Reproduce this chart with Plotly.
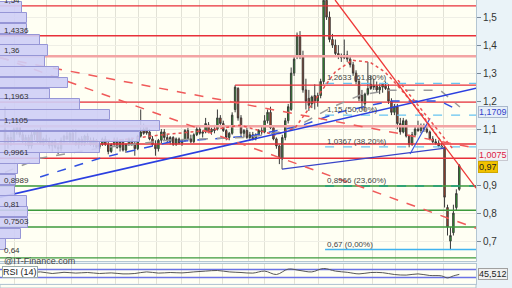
import plotly.graph_objects as go

# ---------------- data ----------------
opens = [1.10,1.05,1.07,1.06,1.09,1.11,1.08,1.06,1.07,1.04,1.08,1.09,1.096,1.05,1.065,1.055,1.04,1.055,1.035,1.03,
         1.06,1.075,1.06,1.085,1.055,1.045,1.065,1.05,1.075,1.06,1.045,1.06,1.035,1.045,1.065,1.045,1.02,1.045,1.06,1.035,
         1.055,1.025,1.045,1.065,1.045,1.03,1.075,1.10,1.107,1.09,1.065,1.045,1.03,1.06,1.09,1.07,1.055,1.07,1.045,1.065,
         1.05,1.06,1.095,1.065,1.055,1.08,1.10,1.085,1.09,1.115,1.09,1.10,1.10,1.14,1.12,1.095,1.07,1.085,1.17,1.245,
         1.14,1.085,1.095,1.07,1.08,1.065,1.08,1.095,1.09,1.13,1.16,1.105,1.065,1.04,0.995,1.07,1.13,1.17,1.30,1.36,
         1.43,1.36,1.24,1.21,1.19,1.22,1.20,1.22,1.27,1.56,1.50,1.42,1.40,1.37,1.36,1.355,1.365,1.35,1.33,1.30,
         1.27,1.22,1.19,1.225,1.26,1.25,1.255,1.24,1.25,1.255,1.245,1.20,1.16,1.18,1.12,1.09,1.13,1.075,1.045,1.08,
         1.10,1.095,1.11,1.10,1.09,1.065,1.055,1.05,1.04,1.035,0.82,0.70,0.73,0.82,0.885]
highs = [1.18,1.08,1.09,1.11,1.12,1.12,1.09,1.08,1.08,1.09,1.10,1.10,1.107,1.07,1.08,1.07,1.06,1.065,1.05,1.07,
         1.08,1.09,1.09,1.10,1.10,1.07,1.075,1.08,1.085,1.07,1.07,1.065,1.05,1.07,1.075,1.055,1.05,1.07,1.07,1.06,
         1.065,1.05,1.07,1.07,1.055,1.08,1.17,1.12,1.11,1.10,1.075,1.06,1.065,1.10,1.10,1.08,1.075,1.075,1.07,1.07,
         1.065,1.10,1.105,1.08,1.085,1.11,1.11,1.095,1.14,1.125,1.105,1.115,1.17,1.15,1.13,1.10,1.09,1.16,1.257,1.25,
         1.15,1.10,1.105,1.09,1.09,1.085,1.10,1.11,1.15,1.17,1.18,1.11,1.07,1.045,1.08,1.14,1.19,1.32,1.36,1.445,
         1.45,1.38,1.28,1.24,1.22,1.26,1.23,1.28,1.575,1.57,1.52,1.44,1.42,1.40,1.37,1.42,1.38,1.36,1.34,1.31,
         1.28,1.24,1.23,1.34,1.29,1.28,1.27,1.26,1.265,1.27,1.26,1.21,1.19,1.19,1.14,1.14,1.135,1.08,1.09,1.11,
         1.13,1.12,1.12,1.115,1.095,1.075,1.065,1.06,1.05,1.04,0.83,0.75,0.83,0.885,0.975]
lows = [1.01,1.03,1.04,1.05,1.08,1.07,1.05,1.04,1.03,1.03,1.06,1.05,1.045,1.04,1.05,1.03,1.02,1.03,1.01,1.02,
        1.05,1.06,1.05,1.05,1.04,1.03,1.04,1.04,1.05,1.04,1.035,1.03,1.02,1.04,1.04,1.01,1.015,1.04,1.03,1.02,
        1.02,1.015,1.04,1.04,1.005,1.025,1.07,1.08,1.08,1.06,1.04,1.005,1.02,1.05,1.06,1.05,1.045,1.04,1.04,1.045,
        1.04,1.055,1.06,1.05,1.05,1.075,1.08,1.07,1.085,1.085,1.08,1.085,1.095,1.115,1.09,1.06,1.06,1.08,1.16,1.13,
        1.075,1.07,1.065,1.06,1.06,1.06,1.075,1.08,1.085,1.12,1.10,1.06,1.03,0.975,0.99,1.06,1.12,1.165,1.29,1.35,
        1.35,1.23,1.17,1.165,1.175,1.17,1.18,1.21,1.26,1.49,1.41,1.39,1.36,1.35,1.34,1.35,1.34,1.32,1.29,1.26,
        1.20,1.17,1.165,1.22,1.24,1.24,1.23,1.225,1.23,1.24,1.19,1.15,1.15,1.10,1.08,1.085,1.07,1.035,1.04,1.075,
        1.09,1.085,1.09,1.085,1.06,1.05,1.045,1.035,1.03,0.82,0.72,0.668,0.72,0.81,0.88]
closes = [1.045,1.07,1.055,1.10,1.115,1.08,1.06,1.07,1.04,1.08,1.095,1.055,1.05,1.065,1.055,1.04,1.055,1.035,1.03,1.06,
          1.075,1.065,1.085,1.055,1.045,1.065,1.05,1.075,1.06,1.045,1.06,1.035,1.045,1.065,1.045,1.02,1.045,1.06,1.035,1.055,
          1.025,1.045,1.065,1.045,1.03,1.075,1.09,1.085,1.086,1.065,1.045,1.03,1.06,1.09,1.07,1.06,1.07,1.045,1.065,1.05,
          1.06,1.095,1.065,1.055,1.08,1.10,1.085,1.09,1.12,1.09,1.10,1.095,1.14,1.12,1.095,1.07,1.085,1.15,1.25,1.14,
          1.085,1.095,1.07,1.08,1.065,1.08,1.095,1.09,1.13,1.16,1.105,1.065,1.04,0.995,1.07,1.13,1.18,1.30,1.35,1.435,
          1.36,1.24,1.20,1.185,1.215,1.20,1.22,1.27,1.56,1.50,1.42,1.40,1.37,1.36,1.355,1.365,1.35,1.33,1.30,1.27,
          1.21,1.20,1.225,1.245,1.245,1.255,1.24,1.25,1.26,1.245,1.20,1.16,1.18,1.12,1.09,1.13,1.075,1.045,1.08,1.10,
          1.095,1.11,1.10,1.09,1.065,1.055,1.05,1.04,1.035,0.857,0.75,0.72,0.80,0.87,0.97]
candle_idx = list(range(len(closes)))

# volume-at-price profile (top bin first)
profile_top = 1.5536
profile_step = 0.0385
profile_vol = [22, 27, 27, 40, 48, 45, 59, 68, 50, 80, 110, 160, 140, 100, 40, 18, 16, 15, 27, 28, 28, 21, 6]

# horizontal levels
red_levels = [1.54, 1.4336, 1.1963, 1.047, 0.9961]
pink_levels = [1.36, 1.1105]
green_levels = [0.8966, 0.81, 0.7503, 0.64]
left_labels = ["1,54", "1,4336", "1,36", "1,1963", "1,1105", "0,9961", "0,8989", "0,81", "0,7503", "0,64"]
left_label_levels = [1.54, 1.4336, 1.36, 1.1963, 1.1105, 0.9961, 0.8966, 0.81, 0.7503, 0.64]
fib_levels = [1.2633, 1.15, 1.0367, 0.8966, 0.67]
fib_labels = ["1,2633 (61,80%)", "1,15 (50,00%)", "1,0367 (38,20%)", "0,8966 (23,60%)", "0,67 (0,00%)"]
fib_start = 108.5
box_top_level = 1.257
box_top_start = 78

# moving averages (index, price)
ma_long_x = [11.9, 32.2, 55.9, 83.1, 100, 113.6, 130.5, 147.5, 153.6]
ma_long_y = [0.929, 0.996, 1.054, 1.075, 1.111, 1.161, 1.200, 1.200, 1.168]
ma_mid_x = [0, 11.9, 32.2, 55.9, 83.1, 96.6, 110.2, 120.3, 130.5, 147.5, 154.2]
ma_mid_y = [0.946, 0.996, 1.032, 1.061, 1.071, 1.096, 1.175, 1.221, 1.239, 1.239, 1.179]
ma_short_x = [0, 18.6, 39, 52.5, 69.5, 79.7, 91.5, 98.3, 105.1, 111.9, 117.6, 123.7, 128.8, 133.9, 140.7, 147.5]
ma_short_y = [1.061, 1.054, 1.061, 1.079, 1.096, 1.114, 1.079, 1.104, 1.204, 1.304, 1.346, 1.339, 1.304, 1.246, 1.161, 1.061]

# drawn trend lines: (x0, y0, x1, y1, colour, dash, width)
trend_lines = [
    (-1.7, 0.857, 159.7, 1.246, "#2B3FE0", "solid", 1.6),
    (93.9, 0.957, 149.2, 1.032, "#3A45C8", "solid", 1.2),
    (137.3, 1.011, 144.1, 1.139, "#3A55E0", "solid", 1.2),
    (93.9, 1.061, 93.9, 0.957, "#555555", "solid", 1.0),
    (111.9, 1.561, 159.7, 0.889, "#EE3838", "solid", 1.3),
    (133.2, 1.275, 151.6, 1.032, "#EE5050", "dot", 1.5),
    (-1.7, 1.354, 159.7, 1.032, "#F05A5A", "dash", 1.5),
    (-1.7, 1.357, 159.7, 0.746, "#F05A5A", "dash", 1.5),
]

# RSI (14)
rsi_x = [0, 4, 8, 12, 16, 20, 24, 28, 32, 36, 40, 44, 48, 52, 56, 60, 64, 68, 72, 76, 80, 84, 88, 92, 96,
         100, 104, 108, 112, 116, 120, 124, 128, 132, 136, 140, 144, 148, 150, 152, 154]
rsi_y = [55, 62, 52, 58, 50, 56, 52, 55, 50, 53, 48, 50, 58, 52, 55, 53, 58, 62, 65, 58, 55, 52, 62, 45, 72,
         65, 58, 75, 62, 56, 48, 55, 54, 45, 42, 48, 40, 38, 28, 38, 45.512]

grid_idx = [3.05, 14.2, 22.7, 31.2, 37.6, 45.4, 51.5, 59.7, 65.8, 73.6, 82.4, 88.1, 98.3, 106.1, 114.6,
            124.7, 132.2, 139.7, 148.8]
price_ticks = [0.7, 0.8, 0.9, 1.1, 1.2, 1.3, 1.4, 1.5]

# ---------------- figure ----------------
XMIN, XMAX = -1.7, 159.66
YTOP = 1.5611
YBOT = YTOP - 261 / 280
FONT = "Liberation Sans"

fig = go.Figure()

centers = [profile_top - profile_step * (k + 0.5) for k in range(len(profile_vol))]
fig.add_trace(go.Bar(x=profile_vol, y=centers, orientation="h", xaxis="x2", yaxis="y",
                     width=profile_step * 0.96, marker=dict(color="rgba(206,206,246,0.9)",
                     line=dict(color="#9696D6", width=1)), hoverinfo="skip"))

def hline(level, x0, x1, color, width, dash="solid"):
    fig.add_trace(go.Scatter(x=[x0, x1], y=[level, level], mode="lines",
                             line=dict(color=color, width=width, dash=dash), hoverinfo="skip"))

for lv in pink_levels:
    hline(lv, XMIN, XMAX, "#F3A4A4", 2.5)
for lv in red_levels:
    hline(lv, XMIN, XMAX, "#E8303A", 1.4)
for lv in green_levels:
    hline(lv, XMIN, XMAX, "#3C9A3C", 1.4)
hline(box_top_level, box_top_start, XMAX, "#E8303A", 1.4)
for lv in fib_levels:
    if lv == 0.67:
        hline(lv, fib_start, XMAX, "#40B4F0", 1.4)
    elif lv == 0.8966:
        hline(lv, fib_start, XMAX, "#1FA07A", 1.6, "dash")
    else:
        hline(lv, fib_start, XMAX, "#66C4F2", 1.4, "dash")

fig.add_trace(go.Scatter(x=ma_long_x, y=ma_long_y, mode="lines", line=dict(color="#3050E0", width=1.5, dash="dash"), hoverinfo="skip"))
fig.add_trace(go.Scatter(x=ma_mid_x, y=ma_mid_y, mode="lines", line=dict(color="#9A9A9A", width=1.5, dash="dash"), hoverinfo="skip"))
fig.add_trace(go.Scatter(x=ma_short_x, y=ma_short_y, mode="lines", line=dict(color="#E85050", width=1.5, dash="dot"), hoverinfo="skip"))

fig.add_trace(go.Candlestick(x=candle_idx, open=opens, high=highs, low=lows, close=closes,
                             increasing=dict(line=dict(color="#3A3A3A", width=1), fillcolor="#26B526"),
                             decreasing=dict(line=dict(color="#3A3A3A", width=1), fillcolor="#C8421E"),
                             whiskerwidth=0, hoverinfo="skip"))

for x0, y0, x1, y1, col, dash, w in trend_lines:
    fig.add_trace(go.Scatter(x=[x0, x1], y=[y0, y1], mode="lines",
                             line=dict(color=col, width=w, dash=dash), hoverinfo="skip"))

# RSI panel
fig.add_trace(go.Scatter(x=[XMIN, XMAX], y=[70, 70], mode="lines", line=dict(color="#6A72E6", width=1.5), xaxis="x3", yaxis="y3", hoverinfo="skip"))
fig.add_trace(go.Scatter(x=[XMIN, XMAX], y=[30, 30], mode="lines", line=dict(color="#6A72E6", width=1.5), xaxis="x3", yaxis="y3", hoverinfo="skip"))
fig.add_trace(go.Scatter(x=rsi_x, y=rsi_y, mode="lines", line=dict(color="#555555", width=1, shape="spline"), xaxis="x3", yaxis="y3", hoverinfo="skip"))

ann = []
for txt, lv in zip(left_labels, left_label_levels):
    ann.append(dict(x=0.004, xref="paper", y=lv, yref="y", text=txt, showarrow=False,
                    xanchor="left", yanchor="bottom", yshift=(1 if txt == "0,64" else -1),
                    font=dict(size=8, color="#333", family=FONT)))
for txt, lv in zip(fib_labels, fib_levels):
    ann.append(dict(x=fib_start, xref="x", y=lv, yref="y", text=txt, showarrow=False,
                    xanchor="left", yanchor="bottom", yshift=-1, font=dict(size=8, color="#444", family=FONT)))

def right_label(val, yref, txt, fg, bg, border, shift=0):
    ann.append(dict(x=1.004, xref="paper", y=val, yref=yref, text=txt, showarrow=False, xanchor="left",
                    yanchor="middle", yshift=shift, bgcolor=bg, bordercolor=border, borderwidth=1, borderpad=0,
                    font=dict(size=9, color=fg, family=FONT)))

right_label(1.1709, "y", "1,1709", "#3344CC", "#E6EEF8", "#A8B8CC", -3)
right_label(1.0075, "y", "1,0075", "#DD2244", "#F2F4F6", "#C8C8D0")
right_label(0.97, "y", "0,97", "#222222", "#F2C200", "#D0A800", -1)
right_label(45.512, "y3", "45,512", "#222222", "#F0F0F0", "#A0A0A0")

ann.append(dict(x=0.004, xref="paper", y=1 - 260.5 / 288, yref="paper", text="@IT-Finance.com", showarrow=False,
                xanchor="left", yanchor="middle", font=dict(size=9, color="#444", family=FONT)))
ann.append(dict(x=0.004, xref="paper", y=1 - 271.5 / 288, yref="paper", text="RSI (14)", showarrow=False,
                xanchor="left", yanchor="middle", bgcolor="#FFFFFF", bordercolor="#9AA", borderwidth=1, borderpad=0,
                font=dict(size=9, color="#222", family=FONT)))

shapes = [dict(type="rect", xref="paper", yref="paper", x0=0, x1=1, y0=0, y1=3.5 / 288,
               fillcolor="#FFFFF3", line=dict(color="#B0C4D0", width=1), layer="below")]

axis_line = "#B4C6D2"
fig.update_layout(
    width=512, height=288, autosize=False,
    margin=dict(l=0, r=36, t=0, b=0),
    paper_bgcolor="#EAF3F8", plot_bgcolor="#FFFFF3",
    showlegend=False, separators=", ", bargap=0,
    annotations=ann, shapes=shapes,
    xaxis=dict(domain=[0, 1], range=[XMIN, XMAX], anchor="y", tickvals=grid_idx, showticklabels=False,
               showgrid=True, gridcolor="#E2E2D6", zeroline=False, rangeslider=dict(visible=False),
               showline=True, linecolor=axis_line, mirror=True),
    xaxis2=dict(overlaying="x", range=[0, 476], visible=False, anchor="y"),
    xaxis3=dict(domain=[0, 1], range=[XMIN, XMAX], anchor="y3", tickvals=grid_idx, showticklabels=False,
                showgrid=True, gridcolor="#E2E2D6", zeroline=False, showline=True, linecolor=axis_line, mirror=True),
    yaxis=dict(domain=[1 - 261 / 288, 1], range=[YBOT, YTOP], side="right", tickvals=price_ticks,
               tickformat=".1f", showgrid=True, gridcolor="#EFEFE6", zeroline=False, ticks="outside",
               ticklen=4, tickcolor="#7A8A99", tickfont=dict(size=10, color="#333", family=FONT),
               showline=True, linecolor=axis_line, mirror=True),
    yaxis3=dict(domain=[1 - 283.5 / 288, 1 - 263.5 / 288], range=[0, 100], side="right",
                showticklabels=False, showgrid=False, zeroline=False, showline=True, linecolor=axis_line, mirror=True),
)

fig.write_html("out.html")
